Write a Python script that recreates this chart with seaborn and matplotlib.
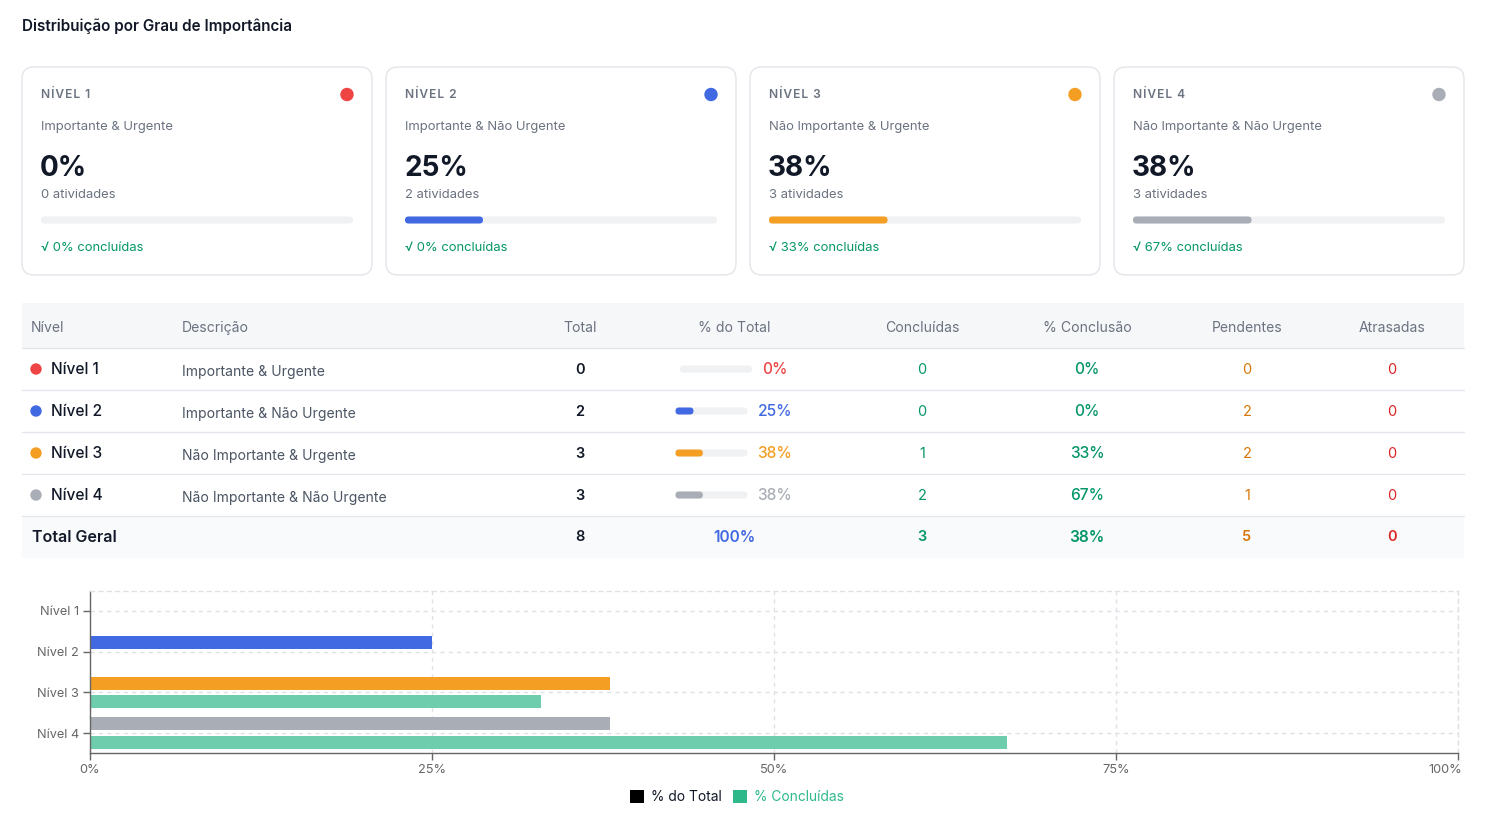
import matplotlib
matplotlib.use('Agg')
import matplotlib.pyplot as plt
import matplotlib.transforms as mtransforms
import seaborn as sns
import pandas as pd
from matplotlib.patches import FancyBboxPatch, Rectangle, Circle, Patch

# ---------------- data ----------------
levels = ['Nível 1', 'Nível 2', 'Nível 3', 'Nível 4']
card_titles = ['NÍVEL 1', 'NÍVEL 2', 'NÍVEL 3', 'NÍVEL 4']
descriptions = ['Importante & Urgente', 'Importante & Não Urgente',
                'Não Importante & Urgente', 'Não Importante & Não Urgente']
totals = [0, 2, 3, 3]
concluidas = [0, 0, 1, 2]
pendentes = [0, 2, 2, 1]
atrasadas = [0, 0, 0, 0]
pct_total = [0, 25, 38, 38]
pct_concluidas = [0, 0, 33, 67]
total_row = ['Total Geral', '8', '100%', '3', '38%', '5', '0']
headers = ['Nível', 'Descrição', 'Total', '% do Total', 'Concluídas',
           '% Conclusão', 'Pendentes', 'Atrasadas']
series_names = ['% do Total', '% Concluídas']
x_ticks = [0, 25, 50, 75, 100]
x_ticklabels = ['0%', '25%', '50%', '75%', '100%']
title = 'Distribuição por Grau de Importância'

level_colors = ['#ef4444', '#4169e1', '#f59e24', '#a9adb5']
pct_text_colors = ['#ef4444', '#4169e1', '#f59e24', '#a9adb5']
green = '#059669'
green_bar = '#6dcdad'
green_legend = '#2fb98a'
orange_txt = '#d97706'
red_txt = '#dc2626'
dark = '#111827'
gray = '#6b7280'

sns.set_theme(style='white')
plt.rcParams['font.family'] = ['Inter', 'DejaVu Sans']

W, H = 1488, 814
fig = plt.figure(figsize=(W / 100, H / 100), dpi=100)
fig.patch.set_facecolor('white')

ov = fig.add_axes([0, 0, 1, 1])
ov.set_xlim(0, W)
ov.set_ylim(H, 0)
ov.axis('off')

FAM = ['Inter', 'DejaVu Sans']


def px(p):
    return p * 0.72


def T(x, y, s, size, color=dark, weight='normal', ha='left', va='center', **kw):
    ov.text(x, y + 2, s, fontsize=px(size), color=color, fontweight=weight,
            ha=ha, va=va, family=FAM, **kw)


def spaced(s):
    return '\u200a'.join(list(s))


# title
T(22, 24, title, 15.2, dark, 'semibold')

# ---------------- cards ----------------
for i in range(4):
    x0 = 22 + i * 364
    card = FancyBboxPatch((x0, 67), 350, 208,
                          boxstyle='round,pad=0,rounding_size=12',
                          fc='white', ec='#e3e5ea', lw=1)
    ov.add_patch(card)
    T(x0 + 19, 93, spaced(card_titles[i]), 12, gray, 'semibold')
    ov.add_patch(Circle((x0 + 325, 94.5), 6, color=level_colors[i]))
    T(x0 + 19, 125, descriptions[i], 13, gray)
    T(x0 + 18, 166, f'{pct_total[i]}%', 28, dark, 'bold')
    T(x0 + 19, 193, f'{totals[i]} atividades', 13, gray)
    track = FancyBboxPatch((x0 + 19, 216.5), 312, 7,
                           boxstyle='round,pad=0,rounding_size=3.5',
                           fc='#f0f1f3', ec='none')
    ov.add_patch(track)
    if pct_total[i] > 0:
        fill = FancyBboxPatch((x0 + 19, 216.5), 312 * pct_total[i] / 100, 7,
                              boxstyle='round,pad=0,rounding_size=3.5',
                              fc=level_colors[i], ec='none')
        ov.add_patch(fill)
    pc = round(100 * concluidas[i] / totals[i]) if totals[i] else 0
    T(x0 + 19, 246, f'\u221a {pc}% concluídas', 13, green)

# ---------------- table ----------------
ov.add_patch(Rectangle((22, 303), 1442, 45, fc='#f6f7f9', ec='none'))
ov.add_patch(Rectangle((22, 516), 1442, 42, fc='#f9fafb', ec='none'))
for yl in [348, 390, 432, 474, 516]:
    ov.plot([22, 1464], [yl, yl], color='#e4e6eb', lw=1)

col_x = [31, 182, 580, 734, 922, 1087, 1247, 1392]
col_ha = ['left', 'left', 'center', 'center', 'center', 'center', 'center', 'center']
for h, x, ha in zip(headers, col_x, col_ha):
    T(x, 326, h, 14, gray, 'normal', ha=ha)

for i in range(4):
    y = 369 + i * 42
    ov.add_patch(Circle((36, y), 5, color=level_colors[i]))
    T(51, y - 1, levels[i], 15.5, dark, 'medium')
    T(182, y + 1, descriptions[i], 14, '#4b5563')
    T(580, y - 1, str(totals[i]), 14.5, dark, 'semibold', ha='center')
    s = f'{pct_total[i]}%'
    tw = 9 * len(s) + 8
    start = 734 - (72 + 10 + tw) / 2
    ov.add_patch(FancyBboxPatch((start, y - 3.5), 72, 7,
                                boxstyle='round,pad=0,rounding_size=3.5',
                                fc='#f0f1f3', ec='none'))
    if pct_total[i] > 0:
        ov.add_patch(FancyBboxPatch((start, y - 3.5), 72 * pct_total[i] / 100, 7,
                                    boxstyle='round,pad=0,rounding_size=3.5',
                                    fc=level_colors[i], ec='none'))
    T(start + 82, y - 1, s, 15.5, pct_text_colors[i], 'medium')
    T(922, y - 1, str(concluidas[i]), 14.5, green, 'normal', ha='center')
    pc = round(100 * concluidas[i] / totals[i]) if totals[i] else 0
    T(1087, y - 1, f'{pc}%', 15.5, green, 'medium', ha='center')
    T(1247, y - 1, str(pendentes[i]), 14.5, orange_txt, 'normal', ha='center')
    T(1392, y - 1, str(atrasadas[i]), 14.5, red_txt, 'normal', ha='center')

yt = 535
tot_colors = [dark, dark, '#4169e1', green, green, orange_txt, red_txt]
tot_x = [32, 580, 734, 922, 1087, 1247, 1392]
tot_ha = ['left'] + ['center'] * 6
tot_size = [16, 14.5, 15.5, 14.5, 15.5, 14.5, 14.5]
for s, x, c, ha, sz in zip(total_row, tot_x, tot_colors, tot_ha, tot_size):
    T(x, yt, s, sz, c, 'semibold', ha=ha)

# ---------------- bar chart ----------------
ax = fig.add_axes([90 / W, (H - 753) / H, 1368 / W, (753 - 591) / H])
df = pd.DataFrame({
    'Nível': levels * 2,
    'Valor': pct_total + pct_concluidas,
    'Série': [series_names[0]] * 4 + [series_names[1]] * 4,
})
sns.barplot(data=df, y='Nível', x='Valor', hue='Série', orient='h',
            palette=['#000000', green_bar], width=0.9, gap=0.29,
            legend=False, ax=ax, saturation=1)
for bar, c in zip(ax.containers[0], level_colors):
    bar.set_facecolor(c)
    bar.set_edgecolor('none')
for bar in ax.containers[1]:
    bar.set_facecolor(green_bar)
    bar.set_edgecolor('none')

ax.set_xlim(0, 100)
ax.set_ylim(3.49, -0.49)
ax.set_xticks(x_ticks)
ax.set_xticklabels(x_ticklabels)
ax.set_xlabel('')
ax.set_ylabel('')
ax.set_facecolor('white')
ax.grid(True, axis='both', linestyle=(0, (3, 3)), color='#dfe1e7', lw=1)
ax.set_axisbelow(True)
for sp in ['top', 'right']:
    ax.spines[sp].set_visible(True)
    ax.spines[sp].set_linestyle((0, (3, 3)))
    ax.spines[sp].set_color('#dfe1e7')
    ax.spines[sp].set_linewidth(1)
for sp in ['left', 'bottom']:
    ax.spines[sp].set_color('#666666')
    ax.spines[sp].set_linewidth(1)
ax.tick_params(axis='both', colors='#666666', labelsize=px(12.8), length=5,
               width=1, direction='out', left=True, bottom=True, pad=3)
for lab in ax.get_xticklabels() + ax.get_yticklabels():
    lab.set_family(FAM)
last = ax.get_xticklabels()[-1]
last.set_horizontalalignment('right')
last.set_transform(last.get_transform() +
                   mtransforms.ScaledTranslation(4 / 100, 0, fig.dpi_scale_trans))

handles = [Patch(fc='#000000', ec='none'), Patch(fc=green_legend, ec='none')]
leg = fig.legend(handles, series_names, loc='center',
                 bbox_to_anchor=(737 / W, 1 - 797 / H), ncol=2, frameon=False,
                 fontsize=px(13.8), handlelength=1.05, handleheight=1.05,
                 handletextpad=0.5, columnspacing=0.8)
leg.get_texts()[0].set_color(dark)
leg.get_texts()[1].set_color(green_legend)

fig.savefig('out.png', dpi=100, facecolor='white')
